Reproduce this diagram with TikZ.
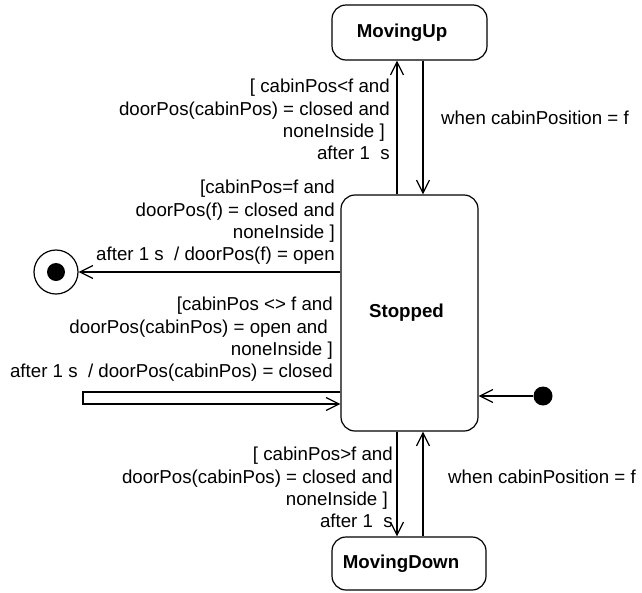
\documentclass[tikz,border=0pt]{standalone}
\usepackage{fontspec}
\setmainfont{Liberation Sans}
\usetikzlibrary{arrows.meta}
\newcommand{\txtsize}{\fontsize{18.7}{22.3}\selectfont}
\newcommand{\firstline}{\rule{0pt}{15pt}}
\begin{document}
\begin{tikzpicture}[x=1pt,y=-1pt,
  state/.style={draw, line width=1.2pt, rounded corners=14pt, inner sep=0pt,
                font=\bfseries\txtsize},
  guard/.style={inner sep=0pt, align=right, anchor=north east, font=\txtsize},
  event/.style={inner sep=0pt, anchor=base west, font=\txtsize},
  trans/.style={line width=1.2pt, -{Straight Barb[length=13pt,width=13pt]}},
  textshift/.style={execute at end node={\hspace*{#1}}}]
\useasboundingbox (0,0) rectangle (642,592);

% states
\node[state, minimum width=155pt, minimum height=55pt, textshift=15pt] (mu) at (409.5,32.5) {MovingUp};
\node[state, minimum width=137pt, minimum height=236pt, textshift=6pt] (st) at (409.5,313) {Stopped};
\node[state, minimum width=154pt, minimum height=53pt, textshift=16pt] (md) at (409,563.5) {MovingDown};

% pseudo states
\node[circle, draw, line width=1.2pt, minimum size=44pt, inner sep=0pt] (fin) at (56,272) {};
\node[circle, fill, minimum size=18pt, inner sep=0pt] (finc) at (fin) {};
\node[circle, fill, minimum size=19pt, inner sep=0pt] (ini) at (543,396) {};

% columns of the vertical transitions and corners of the self transition
\coordinate (colL) at (397,0);
\coordinate (colR) at (423,0);
\coordinate (loopA) at (83,392);
\coordinate (loopB) at (83,404);

% transitions
\draw[trans] (st.north -| colL) -- (mu.south -| colL);
\draw[trans] (mu.south -| colR) -- (st.north -| colR);
\draw[trans] (st.south -| colL) -- (md.north -| colL);
\draw[trans] (md.north -| colR) -- (st.south -| colR);
\draw[trans] (st.west |- fin) -- (fin.east);
\draw[trans] (ini.west) -- (st.east |- ini);
\draw[trans] (st.west |- loopA) -- (loopA) -- (loopB) -- (st.west |- loopB);

% transition labels
\node[guard] (gUp) at (390,77.5)
  {\firstline[ cabinPos<f and\\doorPos(cabinPos) = closed and\\noneInside ]\kern5pt\\after 1~ s};
\node[event] (eUp) at (441,124.5) {when cabinPosition = f};
\node[guard] (gFin) at (335,178.5)
  {\firstline[cabinPos=f and\\doorPos(f) = closed and\\noneInside ]\\after 1 s~ / doorPos(f) = open};
\node[guard] (gSelf) at (333,295.5)
  {\firstline[cabinPos <> f and\\doorPos(cabinPos) = open and\kern5pt\\noneInside ]\\after 1 s~ / doorPos(cabinPos) = closed};
\node[guard] (gDown) at (393,445.5)
  {\firstline[ cabinPos>f and\\doorPos(cabinPos) = closed and\\noneInside ]\kern5pt\\after 1~ s};
\node[event] (eDown) at (448,483.5) {when cabinPosition = f};
\end{tikzpicture}
\end{document}
